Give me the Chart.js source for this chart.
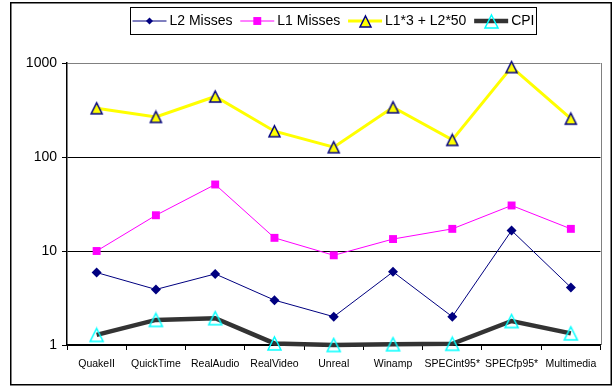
<!DOCTYPE html>
<html>
<head>
<meta charset="utf-8">
<script src="https://cdn.jsdelivr.net/npm/chart.js@4/dist/chart.umd.min.js"></script>
<style>
  html, body { margin: 0; padding: 0; background: #fff; }
  #wrap { width: 613px; height: 387px; position: relative; }
</style>
</head>
<body>
<div id="wrap"><canvas id="c" width="613" height="387"></canvas></div>
<script>
// Benchmarks on the x axis
const categories = ['QuakeII', 'QuickTime', 'RealAudio', 'RealVideo', 'Unreal', 'Winamp', 'SPECint95*', 'SPECfp95*', 'Multimedia'];

// Per-benchmark measurements (log scale)
const l2Misses = [5.9, 3.9, 5.7, 3.0, 2.0, 6.0, 2.0, 16.5, 4.1];
const l1Misses = [10.0, 24, 51, 13.8, 9.0, 13.4, 17.2, 30.5, 17.2];
const weightedMisses = [330, 267, 440, 188, 127, 338, 152, 905, 256];
const cpi = [1.28, 1.85, 1.93, 1.04, 1.0, 1.02, 1.03, 1.80, 1.33];

// Decade ticks on the value axis
const yTicks = [1, 10, 100, 1000];

const FONT = '"Liberation Sans", Arial, sans-serif';

// Triangle markers drawn with their bounding box centred on the point
function triangleMarker(w, h, fill, stroke, lw) {
  const pad = Math.ceil(lw);
  const cv = document.createElement('canvas');
  cv.width = w + pad * 2;
  cv.height = h + pad * 2;
  const g = cv.getContext('2d');
  g.beginPath();
  g.moveTo(pad + w / 2, pad);
  g.lineTo(pad + w, pad + h);
  g.lineTo(pad, pad + h);
  g.closePath();
  if (fill) { g.fillStyle = fill; g.fill(); }
  g.lineWidth = lw;
  g.strokeStyle = stroke;
  g.lineJoin = 'miter';
  g.stroke();
  return cv;
}
const yellowTri = triangleMarker(11, 11, '#FFFF00', '#000080', 1.5);
const cyanTri = triangleMarker(13, 13, null, '#00FFFF', 1.5);

const datasets = [
  {
    label: 'L2 Misses', data: l2Misses,
    borderColor: '#000080', backgroundColor: '#000080', borderWidth: 1,
    pointStyle: 'rectRot', pointRadius: 5, pointBorderWidth: 0,
    pointBackgroundColor: '#000080'
  },
  {
    label: 'L1 Misses', data: l1Misses,
    borderColor: '#FF00FF', backgroundColor: '#FF00FF', borderWidth: 1,
    pointStyle: 'rect', pointRadius: 5.6, pointBorderWidth: 0,
    pointBackgroundColor: '#FF00FF'
  },
  {
    label: 'L1*3 + L2*50', data: weightedMisses,
    borderColor: '#FFFF00', backgroundColor: '#FFFF00', borderWidth: 3,
    pointStyle: yellowTri, pointRadius: 7
  },
  {
    label: 'CPI', data: cpi,
    borderColor: '#333333', backgroundColor: '#333333', borderWidth: 4.5,
    pointStyle: cyanTri, pointRadius: 8
  }
];

// Frame round the whole chart, grey edge of the plot area, boxed legend
const decorations = {
  id: 'decorations',
  beforeDraw(chart) {
    const ctx = chart.ctx;
    ctx.save();
    ctx.fillStyle = '#ffffff';
    ctx.fillRect(0, 0, chart.width, chart.height);
    ctx.restore();
  },
  beforeDatasetsDraw(chart) {
    const ctx = chart.ctx, a = chart.chartArea;
    ctx.save();
    ctx.strokeStyle = '#808080';
    ctx.lineWidth = 1;
    ctx.beginPath();
    ctx.moveTo(Math.round(a.right) + 0.5, a.top);
    ctx.lineTo(Math.round(a.right) + 0.5, a.bottom);
    ctx.stroke();
    ctx.restore();
  },
  afterDraw(chart) {
    const ctx = chart.ctx;
    ctx.save();
    // outer frame
    ctx.strokeStyle = '#000';
    ctx.lineWidth = 1.5;
    ctx.strokeRect(10.75, 2.75, 600.5, 382);

    // legend: line sample with marker, then the series name
    ctx.font = '14px ' + FONT;
    ctx.textBaseline = 'middle';
    const sample = 34, gapText = 3, padX = 2;
    const boxLeft = 130.5, boxRight = 536.5;
    const items = chart.data.datasets.map(ds => ({ ds, w: ctx.measureText(ds.label).width }));
    const used = padX * 2 + items.reduce((s, it) => s + sample + gapText + it.w, 0);
    const gapItem = Math.max(2, (boxRight - boxLeft - used) / (items.length - 1));
    const cy = 21;
    ctx.lineWidth = 1;
    ctx.strokeStyle = '#000';
    ctx.strokeRect(boxLeft, 7.5, boxRight - boxLeft, 27);
    let x = boxLeft + padX;
    items.forEach((it, i) => {
      if (i) x += gapItem;
      const ds = it.ds;
      ctx.strokeStyle = ds.borderColor;
      ctx.lineWidth = ds.borderWidth;
      ctx.beginPath();
      ctx.moveTo(x, cy);
      ctx.lineTo(x + sample, cy);
      ctx.stroke();
      const mx = x + sample / 2;
      const ps = ds.pointStyle;
      if (typeof ps === 'object') {
        ctx.drawImage(ps, Math.round(mx - ps.width / 2), Math.round(cy - ps.height / 2));
      } else {
        ctx.fillStyle = ds.pointBackgroundColor;
        ctx.beginPath();
        const r = ds.pointRadius * Math.SQRT1_2;
        if (ps === 'rect') {
          ctx.rect(mx - r, cy - r, r * 2, r * 2);
        } else {
          ctx.moveTo(mx - r, cy); ctx.lineTo(mx, cy - r); ctx.lineTo(mx + r, cy); ctx.lineTo(mx, cy + r); ctx.closePath();
        }
        ctx.fill();
      }
      x += sample + gapText;
      ctx.fillStyle = '#000';
      ctx.fillText(ds.label, x, cy + 0.5);
      x += it.w;
    });
    ctx.restore();
  }
};

new Chart(document.getElementById('c'), {
  type: 'line',
  data: { labels: categories, datasets },
  plugins: [decorations],
  options: {
    responsive: false,
    animation: false,
    events: [],
    datasets: { line: { clip: false, tension: 0, fill: false } },
    layout: { padding: { left: 0, top: 63, right: 11, bottom: 0 } },
    plugins: { legend: { display: false }, tooltip: { enabled: false } },
    scales: {
      x: {
        type: 'category',
        offset: true,
        afterFit(scale) { scale.height = 42; },
        grid: {
          offset: true,
          drawOnChartArea: false,
          drawTicks: true,
          tickLength: 5,
          tickColor: '#000',
          lineWidth: 1
        },
        border: { display: true, color: '#000', width: 1.5 },
        ticks: {
          color: '#000',
          font: { family: FONT, size: 10.5 },
          padding: 8,
          maxRotation: 0,
          autoSkip: false
        }
      },
      y: {
        type: 'logarithmic',
        min: 1,
        max: 1000,
        afterFit(scale) { scale.width = 67; },
        afterBuildTicks(scale) { scale.ticks = yTicks.map(v => ({ value: v })); },
        grid: {
          color: ctx => (ctx.tick && ctx.tick.value === 1000) ? '#808080' : '#000',
          tickColor: '#000',
          tickLength: 5,
          lineWidth: 1
        },
        border: { display: true, color: '#000', width: 1.5 },
        ticks: {
          color: '#000',
          font: { family: FONT, size: 14 },
          padding: 5,
          callback: v => String(v)
        }
      }
    }
  }
});
</script>
</body>
</html>
